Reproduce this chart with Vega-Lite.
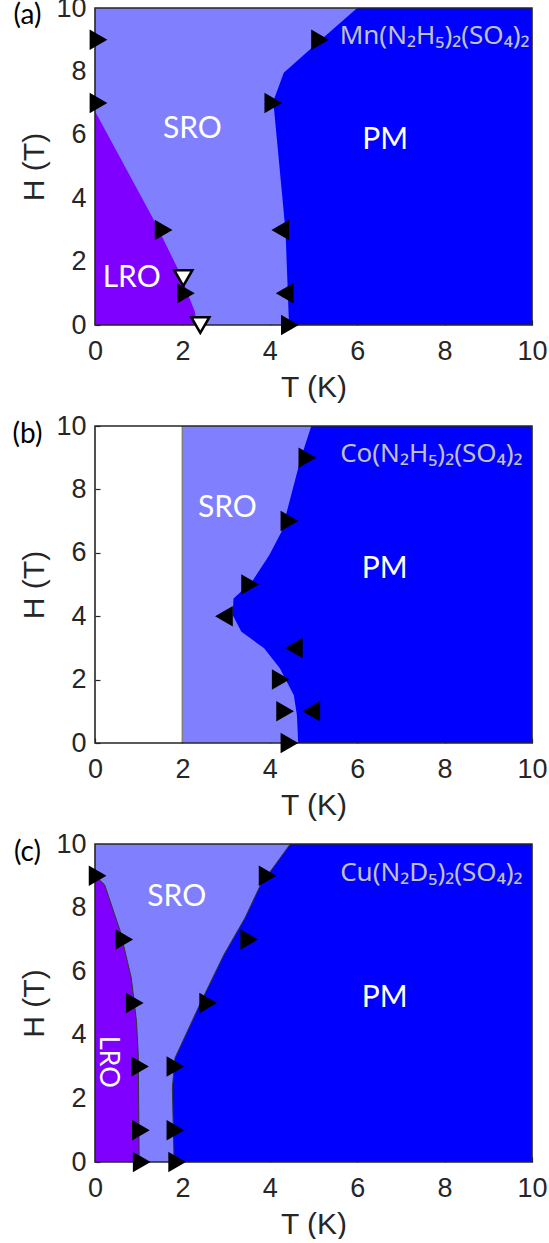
{
  "$schema": "https://vega.github.io/schema/vega-lite/v6.json",
  "padding": {"left": 12, "top": -6, "right": 0, "bottom": 0},
  "background": "white",
  "spacing": 101,
  "bounds": "flush",
  "resolve": {"scale": {"x": "independent", "y": "independent"}},
  "config": {
    "view": {"stroke": null},
    "axis": {
      "grid": false, "domain": false, "labelFlush": false, "labelOverlap": false,
      "labelFont": "Liberation Sans", "labelFontSize": 27, "labelColor": "#262626",
      "titleFont": "Liberation Sans", "titleFontSize": 30, "titleFontWeight": "normal", "titleColor": "#262626",
      "ticks": true, "tickSize": -5, "tickColor": "#262626", "tickWidth": 1.2
    },
    "axisX": {"labelPadding": 18, "titlePadding": 8},
    "axisY": {"labelPadding": 14, "titlePadding": 6},
    "text": {"font": "Lato"}
  },
  "datasets": {
    "box": [{"T": 0, "H": 0}],
    "box_b": [{"T": 2, "H": 0}],
    "a_pm": [{"H": 0, "T": 4.44}, {"H": 2.96, "T": 4.36}, {"H": 7.06, "T": 4.08}, {"H": 7.96, "T": 4.32}, {"H": 8.84, "T": 5.04}, {"H": 10, "T": 6.0}],
    "a_lro": [{"H": 0, "T": 2.34}, {"H": 0.44, "T": 2.28}, {"H": 1.7, "T": 1.92}, {"H": 3.28, "T": 1.36}, {"H": 6.74, "T": 0}],
    "a_right": [{"T": 0.08, "H": 9}, {"T": 5.15, "H": 9}, {"T": 0.08, "H": 7}, {"T": 4.08, "H": 7}, {"T": 1.57, "H": 3}, {"T": 2.08, "H": 1}, {"T": 4.46, "H": 0}],
    "a_left": [{"T": 4.24, "H": 3}, {"T": 4.34, "H": 1}],
    "a_down": [{"T": 2.02, "H": 1.48}, {"T": 2.41, "H": 0}],
    "b_pm": [{"H": 0, "T": 4.65}, {"H": 0.88, "T": 4.62}, {"H": 1.51, "T": 4.55}, {"H": 2.36, "T": 4.23}, {"H": 2.99, "T": 3.87}, {"H": 3.51, "T": 3.35}, {"H": 4.04, "T": 3.15}, {"H": 4.56, "T": 3.17}, {"H": 5.09, "T": 3.59}, {"H": 5.93, "T": 3.99}, {"H": 6.67, "T": 4.27}, {"H": 7.93, "T": 4.51}, {"H": 8.98, "T": 4.71}, {"H": 10, "T": 4.95}],
    "b_right": [{"T": 4.86, "H": 9}, {"T": 4.45, "H": 7}, {"T": 3.55, "H": 5}, {"T": 4.25, "H": 2}, {"T": 4.35, "H": 1}, {"T": 4.45, "H": 0}],
    "b_left": [{"T": 2.95, "H": 4}, {"T": 4.55, "H": 3}, {"T": 4.95, "H": 1}],
    "c_lro": [{"H": 0, "T": 1.01}, {"H": 1.8, "T": 1.0}, {"H": 3.38, "T": 0.99}, {"H": 4.42, "T": 0.95}, {"H": 5.79, "T": 0.83}, {"H": 7.25, "T": 0.58}, {"H": 8.72, "T": 0.22}, {"H": 9.0, "T": 0}],
    "c_pm": [{"H": 0, "T": 1.81}, {"H": 2.33, "T": 1.77}, {"H": 3.27, "T": 1.83}, {"H": 5.05, "T": 2.43}, {"H": 6.52, "T": 2.95}, {"H": 7.67, "T": 3.43}, {"H": 8.72, "T": 3.79}, {"H": 10, "T": 4.47}],
    "c_right": [{"T": 0.06, "H": 9}, {"T": 3.95, "H": 9}, {"T": 0.67, "H": 7}, {"T": 3.53, "H": 7}, {"T": 0.91, "H": 5}, {"T": 2.59, "H": 5}, {"T": 1.03, "H": 3}, {"T": 1.84, "H": 3}, {"T": 1.05, "H": 1}, {"T": 1.84, "H": 1}, {"T": 1.07, "H": 0}, {"T": 1.88, "H": 0}]
  },
  "vconcat": [
    {
      "width": 437, "height": 317,
      "encoding": {
        "x": {"field": "T", "type": "quantitative", "scale": {"domain": [0, 10], "nice": false, "zero": false}, "title": "T (K)", "axis": {"values": [0, 2, 4, 6, 8, 10]}},
        "y": {"field": "H", "type": "quantitative", "scale": {"domain": [0, 10], "nice": false, "zero": false}, "title": "H (T)", "axis": {"values": [0, 2, 4, 6, 8, 10]}}
      },
      "layer": [
        {"data": {"name": "box"}, "mark": {"type": "rect", "color": "#8080FF"}, "encoding": {"x2": {"datum": 10}, "y2": {"datum": 10}}},
        {"data": {"name": "a_pm"}, "mark": {"type": "area", "orient": "horizontal", "color": "#0000FF"}, "encoding": {"x2": {"datum": 10}}},
        {"data": {"name": "a_lro"}, "mark": {"type": "area", "orient": "horizontal", "color": "#8000FF"}, "encoding": {"x2": {"datum": 0}}},
        {"data": {"name": "box"}, "mark": {"type": "rect", "filled": false, "stroke": "#262626", "strokeWidth": 1.6}, "encoding": {"x2": {"datum": 10}, "y2": {"datum": 10}}},
        {"data": {"name": "a_right"}, "mark": {"type": "point", "shape": "triangle-right", "filled": true, "color": "black", "size": 420, "opacity": 1}},
        {"data": {"name": "a_left"}, "mark": {"type": "point", "shape": "triangle-left", "filled": true, "color": "black", "size": 420, "opacity": 1}},
        {"data": {"name": "a_down"}, "mark": {"type": "point", "shape": "triangle-down", "filled": true, "fill": "white", "stroke": "black", "strokeWidth": 2.5, "size": 330, "opacity": 1}},
        {"data": {"values": [{"T": 2.23, "H": 6.17, "label": "SRO"}, {"T": 6.64, "H": 5.85, "label": "PM"}, {"T": 0.84, "H": 1.49, "label": "LRO"}]}, "mark": {"type": "text", "color": "white", "fontSize": 30, "align": "center", "baseline": "middle"}, "encoding": {"text": {"field": "label"}}},
        {"data": {"values": [{"T": 5.6, "H": 9.12, "label": "Mn(N₂H₅)₂(SO₄)₂"}]}, "mark": {"type": "text", "color": "#C0C0C0", "font": "Noto Sans", "fontSize": 26, "align": "left", "baseline": "middle"}, "encoding": {"text": {"field": "label"}}},
        {"data": {"values": [{"T": -1.545, "H": 9.74, "label": "(a)"}]}, "mark": {"type": "text", "color": "black", "fontSize": 28, "align": "center", "baseline": "middle"}, "encoding": {"text": {"field": "label"}}}
      ]
    },
    {
      "width": 437, "height": 317,
      "encoding": {
        "x": {"field": "T", "type": "quantitative", "scale": {"domain": [0, 10], "nice": false, "zero": false}, "title": "T (K)", "axis": {"values": [0, 2, 4, 6, 8, 10]}},
        "y": {"field": "H", "type": "quantitative", "scale": {"domain": [0, 10], "nice": false, "zero": false}, "title": "H (T)", "axis": {"values": [0, 2, 4, 6, 8, 10]}}
      },
      "layer": [
        {"data": {"name": "box_b"}, "mark": {"type": "rect", "color": "#8080FF"}, "encoding": {"x2": {"datum": 10}, "y2": {"datum": 10}}},
        {"data": {"name": "b_pm"}, "mark": {"type": "area", "orient": "horizontal", "color": "#0000FF"}, "encoding": {"x2": {"datum": 10}}},
        {"data": {"name": "box_b"}, "mark": {"type": "rule", "color": "#808080", "strokeWidth": 1.6}, "encoding": {"y": {"datum": 0}, "y2": {"datum": 10}}},
        {"data": {"name": "box"}, "mark": {"type": "rect", "filled": false, "stroke": "#262626", "strokeWidth": 1.6}, "encoding": {"x2": {"datum": 10}, "y2": {"datum": 10}}},
        {"data": {"name": "b_right"}, "mark": {"type": "point", "shape": "triangle-right", "filled": true, "color": "black", "size": 420, "opacity": 1}},
        {"data": {"name": "b_left"}, "mark": {"type": "point", "shape": "triangle-left", "filled": true, "color": "black", "size": 420, "opacity": 1}},
        {"data": {"values": [{"T": 3.03, "H": 7.4, "label": "SRO"}, {"T": 6.63, "H": 5.5, "label": "PM"}]}, "mark": {"type": "text", "color": "white", "fontSize": 30, "align": "center", "baseline": "middle"}, "encoding": {"text": {"field": "label"}}},
        {"data": {"values": [{"T": 5.61, "H": 9.13, "label": "Co(N₂H₅)₂(SO₄)₂"}]}, "mark": {"type": "text", "color": "#C0C0C0", "font": "Noto Sans", "fontSize": 26, "align": "left", "baseline": "middle"}, "encoding": {"text": {"field": "label"}}},
        {"data": {"values": [{"T": -1.545, "H": 9.72, "label": "(b)"}]}, "mark": {"type": "text", "color": "black", "fontSize": 28, "align": "center", "baseline": "middle"}, "encoding": {"text": {"field": "label"}}}
      ]
    },
    {
      "width": 437, "height": 318,
      "encoding": {
        "x": {"field": "T", "type": "quantitative", "scale": {"domain": [0, 10], "nice": false, "zero": false}, "title": "T (K)", "axis": {"values": [0, 2, 4, 6, 8, 10]}},
        "y": {"field": "H", "type": "quantitative", "scale": {"domain": [0, 10], "nice": false, "zero": false}, "title": "H (T)", "axis": {"values": [0, 2, 4, 6, 8, 10]}}
      },
      "layer": [
        {"data": {"name": "box"}, "mark": {"type": "rect", "color": "#8080FF"}, "encoding": {"x2": {"datum": 10}, "y2": {"datum": 10}}},
        {"data": {"name": "c_pm"}, "mark": {"type": "area", "orient": "horizontal", "color": "#0000FF"}, "encoding": {"x2": {"datum": 10}}},
        {"data": {"name": "c_lro"}, "mark": {"type": "area", "orient": "horizontal", "color": "#8000FF"}, "encoding": {"x2": {"datum": 0}}},
        {"data": {"name": "c_pm"}, "mark": {"type": "line", "color": "#333333", "strokeWidth": 1}, "encoding": {"order": {"field": "H"}}},
        {"data": {"name": "c_lro"}, "mark": {"type": "line", "color": "#333333", "strokeWidth": 1}, "encoding": {"order": {"field": "H"}}},
        {"data": {"name": "box"}, "mark": {"type": "rect", "filled": false, "stroke": "#262626", "strokeWidth": 1.6}, "encoding": {"x2": {"datum": 10}, "y2": {"datum": 10}}},
        {"data": {"name": "c_right"}, "mark": {"type": "point", "shape": "triangle-right", "filled": true, "color": "black", "size": 420, "opacity": 1}},
        {"data": {"values": [{"T": 1.87, "H": 8.32, "label": "SRO"}, {"T": 6.63, "H": 5.16, "label": "PM"}]}, "mark": {"type": "text", "color": "white", "fontSize": 30, "align": "center", "baseline": "middle"}, "encoding": {"text": {"field": "label"}}},
        {"data": {"values": [{"T": 0.29, "H": 3.15, "label": "LRO"}]}, "mark": {"type": "text", "color": "white", "fontSize": 27, "angle": 90, "align": "center", "baseline": "middle"}, "encoding": {"text": {"field": "label"}}},
        {"data": {"values": [{"T": 5.61, "H": 9.09, "label": "Cu(N₂D₅)₂(SO₄)₂"}]}, "mark": {"type": "text", "color": "#C0C0C0", "font": "Noto Sans", "fontSize": 26, "align": "left", "baseline": "middle"}, "encoding": {"text": {"field": "label"}}},
        {"data": {"values": [{"T": -1.545, "H": 9.73, "label": "(c)"}]}, "mark": {"type": "text", "color": "black", "fontSize": 28, "align": "center", "baseline": "middle"}, "encoding": {"text": {"field": "label"}}}
      ]
    }
  ]
}
